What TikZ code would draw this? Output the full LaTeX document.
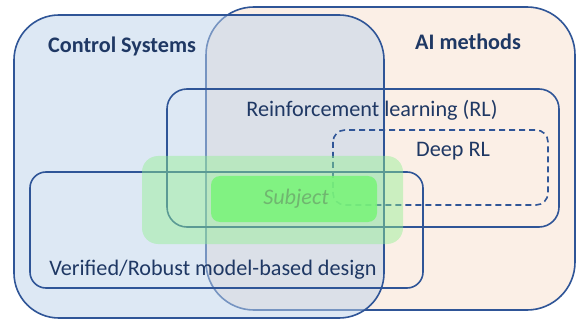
\documentclass[tikz,border=0pt]{standalone}
\usepackage{fontspec}
\setmainfont{Carlito}
\usepackage{xcolor}
\usepackage{tikz}
\usetikzlibrary{calc,positioning}
\definecolor{edgeblue}{RGB}{47,85,151}
\definecolor{labelblue}{RGB}{31,56,100}
\definecolor{csblue}{RGB}{189,211,235}
\definecolor{aipeach}{RGB}{251,239,230}
\definecolor{zonegreen}{RGB}{146,240,146}
\definecolor{subjgreen}{RGB}{120,245,120}
\definecolor{subjtext}{RGB}{112,182,112}
\tikzset{
  setbox/.style={draw=edgeblue, line width=1.6pt},
  lbl/.style={text=labelblue, font=\fontsize{22.2}{26}\selectfont, anchor=base, inner sep=0pt},
}

\begin{document}
\begin{tikzpicture}[x=1pt,y=-1pt]
\useasboundingbox (0,0) rectangle (580,320);
\fill [white] (0,0) rectangle (580,320);
% sets
\draw [setbox, fill=aipeach, rounded corners=48pt] (206,7) rectangle (575,310);
\draw [setbox, fill=csblue, fill opacity=0.5, rounded corners=45pt] (14,15) rectangle (384,318);
\draw [setbox, rounded corners=20pt] (167,89) rectangle (559,227);
\draw [setbox, dash pattern=on 6pt off 4pt, rounded corners=12pt] (333,130) rectangle (548,205);
\draw [setbox, rounded corners=16pt] (30,172) rectangle (423,288);
% subject zone
\fill [zonegreen, opacity=0.45, rounded corners=16pt] (142,156) rectangle (403,244);
\fill [subjgreen, opacity=0.85, rounded corners=9pt] (211,176) rectangle (377,222);

\node [lbl] (cs) at (122,53) {\textbf{Control Systems}};
\node [lbl] (ai) at (468,50) {\textbf{AI methods}};
\node [lbl] (rl) at (372,117) {Reinforcement learning (RL)};
\node [lbl] (drl) at (453,157) {Deep RL};
\node [lbl] (mbd) at (213,275) {Verified/Robust model-based design};
\node [lbl, text=subjtext] (subj) at (296,205) {\textit{Subject}};
\end{tikzpicture}
\end{document}
